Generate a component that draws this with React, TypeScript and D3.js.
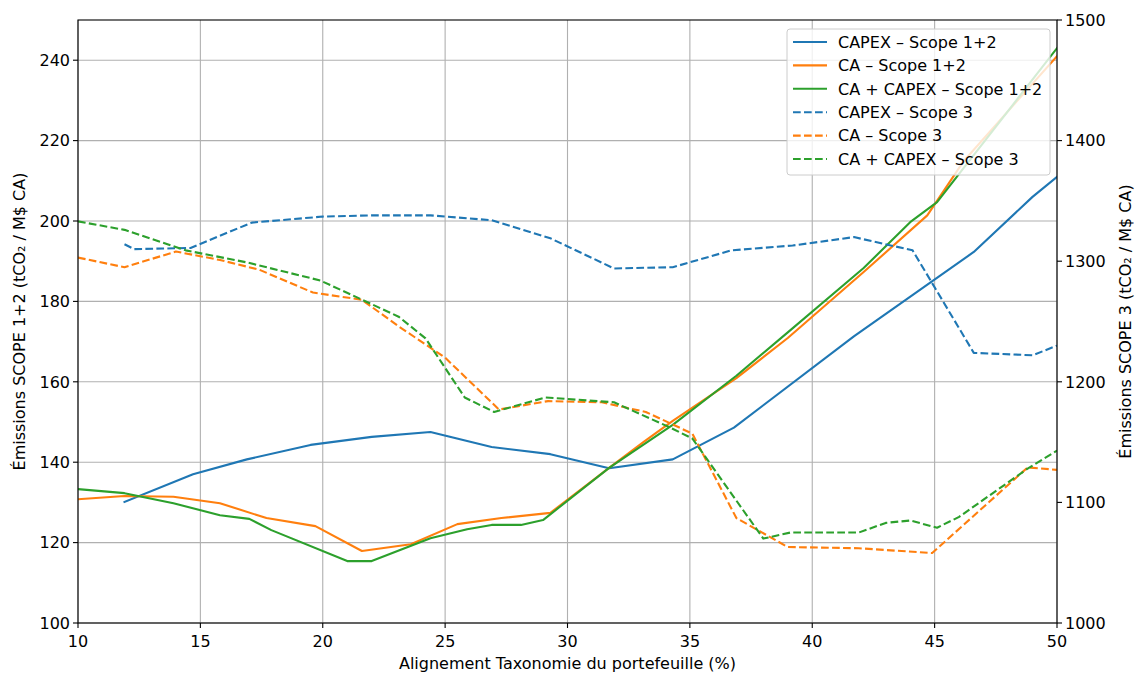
import React from 'react';
import * as d3 from 'd3';

// Scope 1+2 series (left axis)
const capexS12X = [11.9, 14.7, 16.9, 19.5, 22, 24.4, 26.9, 29.3, 31.7, 34.3, 36.8, 41.7, 46.6, 49, 50];
const capexS12Y = [130.1, 137, 140.7, 144.3, 146.3, 147.5, 143.8, 142, 138.5, 140.7, 148.6, 171.3, 192.3, 206, 211];

const caS12X = [10, 11.9, 13.9, 15.8, 17.7, 19.7, 21.6, 23.6, 25.5, 27.3, 29.3, 31.7, 33.1, 34.3, 36.9, 39, 42.1, 44.7, 46.2, 50];
const caS12Y = [130.8, 131.6, 131.4, 129.8, 126.1, 124.1, 117.9, 119.6, 124.6, 126.1, 127.4, 138.6, 145, 150.3, 160.9, 170.9, 187.3, 201.4, 215, 241];

const bothS12X = [10, 11.9, 13.9, 15.8, 17, 17.9, 21, 22, 24.4, 25.9, 26.9, 28.1, 29, 31.7, 34.3, 36.9, 39, 42.1, 44, 45.1, 50];
const bothS12Y = [133.3, 132.3, 129.8, 126.8, 125.9, 123.1, 115.4, 115.4, 121.1, 123.3, 124.4, 124.4, 125.6, 138.6, 149.3, 161.5, 172.3, 188.3, 199.7, 204.7, 243];

// Scope 3 series (right axis)
const capexS3X = [11.9, 12.3, 14.6, 17.1, 20, 22, 24.4, 26.9, 29.3, 31.9, 34.3, 36.7, 39.2, 41.7, 44.1, 46.6, 49, 50];
const capexS3Y = [1314, 1310, 1311, 1332, 1337, 1338, 1338, 1334, 1319, 1294, 1295, 1309, 1313, 1320, 1309, 1224, 1222, 1230];

const caS3X = [10, 11.9, 14, 15.8, 17.4, 19.6, 21.6, 23.1, 25, 27.2, 29.2, 31.4, 33.2, 35.1, 36.9, 39, 41.9, 44.9, 48.8, 50];
const caS3Y = [1303, 1295, 1308, 1301, 1293, 1274, 1268, 1246, 1220, 1177, 1184, 1183, 1175, 1157, 1087, 1063, 1062, 1058, 1129, 1127];

const bothS3X = [10, 11.9, 14.4, 16.9, 19.9, 21.4, 23.1, 24.2, 25.8, 27, 29.1, 31.9, 34.2, 35.1, 38, 39.1, 41.9, 43, 44, 45.1, 46, 48.8, 50];
const bothS3Y = [1333, 1326, 1309, 1299, 1284, 1270, 1254, 1236, 1187, 1175, 1187, 1183, 1162, 1153, 1070, 1075, 1075, 1083, 1085, 1079, 1088, 1128, 1143];

const xTicks = [10, 15, 20, 25, 30, 35, 40, 45, 50];
const yLeftTicks = [100, 120, 140, 160, 180, 200, 220, 240];
const yRightTicks = [1000, 1100, 1200, 1300, 1400, 1500];

const legendLabels = [
  'CAPEX – Scope 1+2',
  'CA – Scope 1+2',
  'CA + CAPEX – Scope 1+2',
  'CAPEX – Scope 3',
  'CA – Scope 3',
  'CA + CAPEX – Scope 3',
];

const BLUE = '#1f77b4';
const ORANGE = '#ff7f0e';
const GREEN = '#2ca02c';

const W = 1136;
const H = 673;
const margin = { top: 20, right: 79, bottom: 50, left: 78 };
const plotW = W - margin.left - margin.right;
const plotH = H - margin.top - margin.bottom;
const FONT = 'DejaVu Sans, sans-serif';
const FS = 16;

const App = () => {
  const x = d3.scaleLinear().domain([10, 50]).range([0, plotW]);
  const yL = d3.scaleLinear().domain([100, 250]).range([plotH, 0]);
  const yR = d3.scaleLinear().domain([1000, 1500]).range([plotH, 0]);

  const mk = (xs: number[], ys: number[], y: d3.ScaleLinear<number, number>) =>
    d3.line<number>().x((_, i) => x(xs[i])).y((d) => y(d))(ys) || '';

  const series = [
    { d: mk(capexS12X, capexS12Y, yL), color: BLUE, dash: null },
    { d: mk(caS12X, caS12Y, yL), color: ORANGE, dash: null },
    { d: mk(bothS12X, bothS12Y, yL), color: GREEN, dash: null },
    { d: mk(capexS3X, capexS3Y, yR), color: BLUE, dash: '7.7,3.3' },
    { d: mk(caS3X, caS3Y, yR), color: ORANGE, dash: '7.7,3.3' },
    { d: mk(bothS3X, bothS3Y, yR), color: GREEN, dash: '7.7,3.3' },
  ];

  const lg = { x: plotW - 270, y: 9, w: 263, h: 146, row: 23.4 };

  return (
    <div style={{ position: 'fixed', left: 0, top: 0, background: 'white' }}>
      <svg width={W} height={H} style={{ display: 'block', fontFamily: FONT }}>
        <rect width={W} height={H} fill="white" />
        <g transform={`translate(${margin.left},${margin.top})`}>
          {/* grid */}
          {xTicks.map((t) => (
            <line key={'gx' + t} x1={x(t)} x2={x(t)} y1={0} y2={plotH} stroke="#b0b0b0" strokeWidth={1.1} />
          ))}
          {yLeftTicks.map((t) => (
            <line key={'gy' + t} x1={0} x2={plotW} y1={yL(t)} y2={yL(t)} stroke="#b0b0b0" strokeWidth={1.1} />
          ))}

          {/* lines */}
          <defs>
            <clipPath id="clip">
              <rect x={0} y={0} width={plotW} height={plotH} />
            </clipPath>
          </defs>
          <g clipPath="url(#clip)">
            {series.map((s, i) => (
              <path key={i} d={s.d} fill="none" stroke={s.color} strokeWidth={2.1}
                strokeDasharray={s.dash || undefined} strokeLinejoin="round" strokeLinecap={s.dash ? 'butt' : 'square'} />
            ))}
          </g>

          {/* frame */}
          <rect x={0} y={0} width={plotW} height={plotH} fill="none" stroke="black" strokeWidth={1.1} />

          {/* bottom axis */}
          {xTicks.map((t) => (
            <g key={'xt' + t} transform={`translate(${x(t)},${plotH})`}>
              <line y1={0} y2={5} stroke="black" strokeWidth={1.1} />
              <text y={24} textAnchor="middle" fontSize={FS} fill="black">{t}</text>
            </g>
          ))}
          <text x={plotW / 2} y={plotH + 46} textAnchor="middle" fontSize={FS} fill="black">
            Alignement Taxonomie du portefeuille (%)
          </text>

          {/* left axis */}
          {yLeftTicks.map((t) => (
            <g key={'yl' + t} transform={`translate(0,${yL(t)})`}>
              <line x1={-5} x2={0} stroke="black" strokeWidth={1.1} />
              <text x={-8} dy="0.36em" textAnchor="end" fontSize={FS} fill="black">{t}</text>
            </g>
          ))}
          <text transform={`translate(${-53},${plotH / 2}) rotate(-90)`} textAnchor="middle" fontSize={FS} fill="black">
            Émissions SCOPE 1+2 (tCO₂ / M$ CA)
          </text>

          {/* right axis */}
          {yRightTicks.map((t) => (
            <g key={'yr' + t} transform={`translate(${plotW},${yR(t)})`}>
              <line x1={0} x2={5} stroke="black" strokeWidth={1.1} />
              <text x={8} dy="0.36em" textAnchor="start" fontSize={FS} fill="black">{t}</text>
            </g>
          ))}
          <text transform={`translate(${plotW + 74},${plotH / 2}) rotate(-90)`} textAnchor="middle" fontSize={FS} fill="black">
            Émissions SCOPE 3 (tCO₂ / M$ CA)
          </text>

          {/* legend */}
          <g transform={`translate(${lg.x},${lg.y})`}>
            <rect width={lg.w} height={lg.h} rx={3} fill="white" fillOpacity={0.8} stroke="#cccccc" strokeWidth={1} />
            {legendLabels.map((lab, i) => {
              const s = series[i];
              const cy = 13 + i * lg.row;
              return (
                <g key={lab}>
                  <line x1={6} x2={40} y1={cy} y2={cy} stroke={s.color} strokeWidth={2.1} strokeDasharray={s.dash || undefined} />
                  <text x={51} y={cy} dy="0.36em" fontSize={FS} fill="black">{lab}</text>
                </g>
              );
            })}
          </g>
        </g>
      </svg>
    </div>
  );
};

export default App;
